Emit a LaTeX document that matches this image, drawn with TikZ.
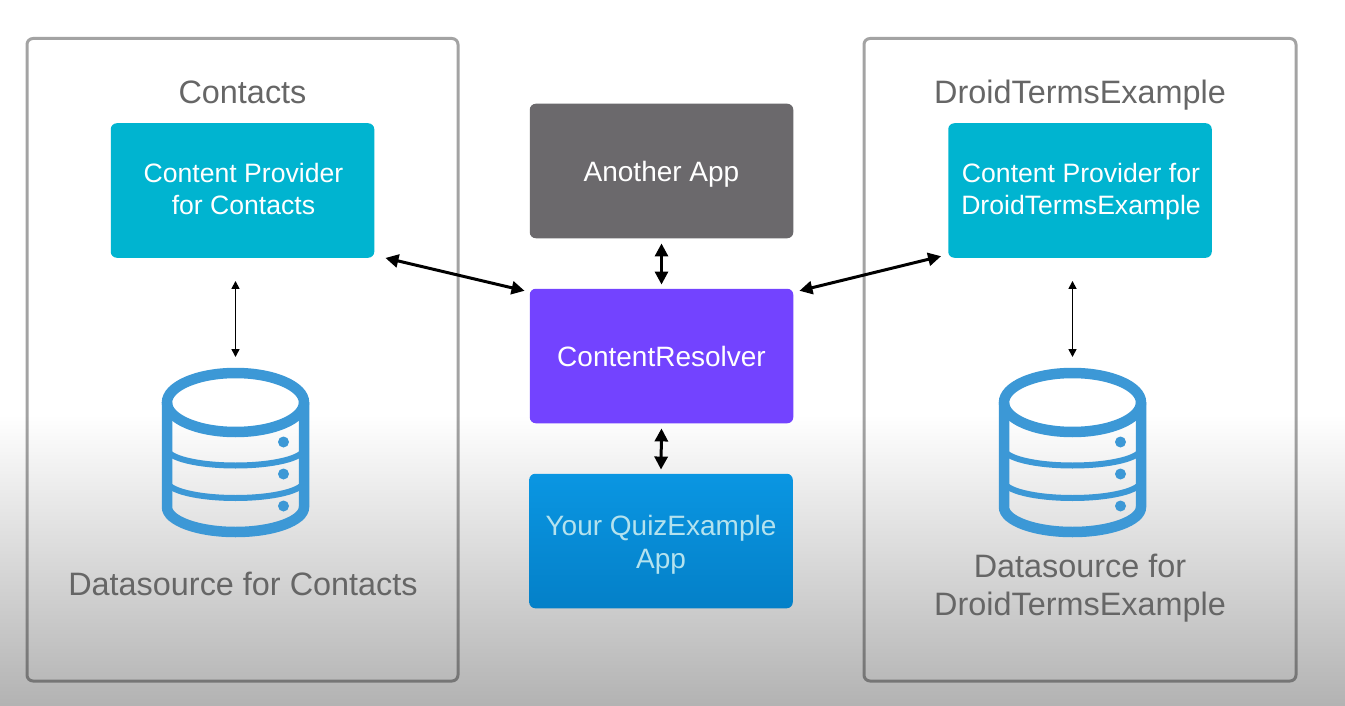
\documentclass[tikz,border=0pt]{standalone}
\usepackage{fontspec}
\setmainfont{Liberation Sans}
\usetikzlibrary{arrows.meta}
\definecolor{cyanbox}{HTML}{00B4D0}
\definecolor{greybox}{HTML}{6B696C}
\definecolor{violetbox}{HTML}{7343FF}
\definecolor{dbblue}{HTML}{3C98D6}
\definecolor{tgrey}{HTML}{666666}
\definecolor{quiztop}{HTML}{0A96E2}
\definecolor{quizbot}{HTML}{0480C8}
\definecolor{quiztext}{HTML}{B4E2EE}
\tikzset{
  px/.style={x=1pt,y=-1pt},
  frame/.style={draw=black,draw opacity=.36,line width=3pt,rounded corners=6pt,fill=none},
  appbox/.style={rounded corners=6pt,minimum width=263.5pt,minimum height=134.5pt,inner sep=0pt},
  boxtext/.style={inner sep=0pt,align=center,text=white},
  smalltext/.style={font=\fontsize{26.6}{32}\selectfont},
  largetext/.style={font=\fontsize{28}{33}\selectfont},
  title/.style={text=tgrey,align=center,font=\fontsize{32.4}{38}\selectfont,inner sep=0pt},
  bigarrow/.style={{Triangle[width=13pt,length=13pt]}-{Triangle[width=13pt,length=13pt]},line width=3pt,black},
  thinarrow/.style={{Triangle[width=8pt,length=8pt]}-{Triangle[width=8pt,length=8pt]},line width=1.6pt,black},
  dbline/.style={draw=dbblue,line width=10.5pt},
  dbband/.style={draw=dbblue,line width=6pt},
}
\newcommand{\dbicon}[2]{%
  \begin{scope}[shift={(#1,0)}]
    \fill[white] (0,402.5) ellipse [x radius=68.5,y radius=29.5];
    \draw[dbband] (-68.5,448.7) arc [start angle=180,end angle=360,x radius=68.5,y radius=-16.8];
    \draw[dbband] (-68.5,481.2) arc [start angle=180,end angle=360,x radius=68.5,y radius=-16.8];
    \draw[dbline] (-68.5,402.5) -- (-68.5,507) arc [start angle=180,end angle=360,x radius=68.5,y radius=-25] -- (68.5,402.5);
    \draw[dbline] (0,402.5) ellipse [x radius=68.5,y radius=29.5];
    \fill[dbblue] (48,442) circle [radius=5.5] (48,474) circle [radius=5.5] (48,506) circle [radius=5.5];
    \coordinate (#2) at (0,368);
  \end{scope}}
\begin{document}
\begin{tikzpicture}[px]
\useasboundingbox (0,0) rectangle (1345,706);
\fill[white] (0,0) rectangle (1345,416);
\shade[top color=white,bottom color=black!30] (0,415) rectangle (1345,706);

\draw[frame] (27,38.5) rectangle (458,681);
\draw[frame] (864,38.5) rectangle (1296,681);

\node[title] (tc) at (242.5,92) {Contacts};
\node[title] (td) at (1080,95) {DroidTermsExample};

\node[appbox,fill=cyanbox] (cpc) at (242.5,190.5) {};
\node[appbox,fill=cyanbox] (cpd) at (1080,190.5) {};
\node[appbox,fill=greybox] (another) at (661.5,171) {};
\node[appbox,fill=violetbox] (res) at (661.5,356) {};
\node[appbox,top color=quiztop,bottom color=quizbot] (quiz) at (661,541) {};

\node[boxtext,smalltext] (cpct) at (243.5,189) {Content Provider\\for Contacts};
\node[boxtext,smalltext] (cpdt) at (1081,192) {Content Provider for\\DroidTermsExample};
\node[boxtext,largetext] (anothert) at (661.5,174.5) {Another App};
\node[boxtext,largetext] (rest) at (661.5,356) {ContentResolver};
\node[boxtext,largetext,text=quiztext] (quizt) at (661,544.5) {Your QuizExample\\App};

\dbicon{235.5}{dbc}
\dbicon{1072.5}{dbd}

\node[title] (dsc) at (243,584) {Datasource for Contacts};
\node[title] (dsd) at (1080,588.5) {Datasource for\\DroidTermsExample};

\draw[bigarrow] ([xshift=11pt]cpc.south east) -- ([xshift=-5pt,yshift=-2.25pt]res.north west);
\draw[bigarrow] ([xshift=6pt,yshift=-2.25pt]res.north east) -- ([xshift=-7pt,yshift=1.75pt]cpd.south west);
\draw[bigarrow] ([yshift=-5pt]another.south) -- ([yshift=4pt]res.north);
\draw[bigarrow] ([yshift=-5pt]res.south) -- ([yshift=4pt]quiz.north);
\draw[thinarrow] ([xshift=-7pt,yshift=-23pt]cpc.south) -- ([yshift=11pt]dbc);
\draw[thinarrow] ([xshift=-7.5pt,yshift=-23pt]cpd.south) -- ([yshift=11pt]dbd);
\end{tikzpicture}
\end{document}
